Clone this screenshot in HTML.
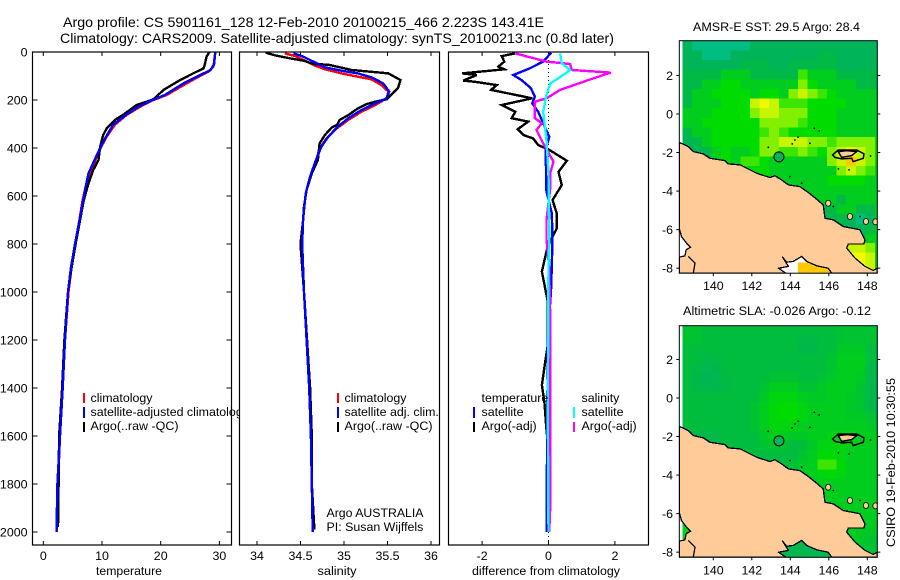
<!DOCTYPE html>
<html>
<head>
<meta charset="utf-8">
<title>Argo profile</title>
<style>
html,body{margin:0;padding:0;background:#fff;}
svg{display:block;}
text{font-family:"Liberation Sans",sans-serif;font-size:12.4px;fill:#000;}
</style>
</head>
<body>
<svg id="fig" xmlns="http://www.w3.org/2000/svg" width="900" height="580" viewBox="0 0 900 580">
<defs>
<clipPath id="clip-sst"><rect x="679.3" y="40.7" width="198" height="232.5"/></clipPath>
<clipPath id="clip-sla"><rect x="679.3" y="325.7" width="198" height="231.6"/></clipPath>
</defs>
<rect width="900" height="580" fill="#fff"/>
<text x="63" y="27" style="font-size:14px" textLength="481" lengthAdjust="spacingAndGlyphs">Argo profile: CS 5901161_128 12-Feb-2010 20100215_466 2.223S 143.41E</text>
<text x="60" y="43" style="font-size:14px" textLength="554" lengthAdjust="spacingAndGlyphs">Climatology: CARS2009. Satellite-adjusted climatology: synTS_20100213.nc (0.8d later)</text>

<g id="p1"></g>
<g id="p1-legend">
<line x1="84" x2="84" y1="393" y2="403" stroke="#f00" stroke-width="2"/>
<line x1="84" x2="84" y1="407" y2="418" stroke="#00f" stroke-width="2"/>
<line x1="84" x2="84" y1="422" y2="432" stroke="#000" stroke-width="2"/>
<text x="90.5" y="402">climatology</text>
<text x="90.5" y="416">satellite-adjusted climatology</text>
<text x="90.5" y="430" textLength="88" lengthAdjust="spacingAndGlyphs">Argo(..raw -QC)</text>
</g>

<g id="p2"></g>
<g id="p2-legend">
<line x1="338" x2="338" y1="393" y2="403" stroke="#f00" stroke-width="2"/>
<line x1="338" x2="338" y1="407" y2="418" stroke="#00f" stroke-width="2"/>
<line x1="338" x2="338" y1="422" y2="432" stroke="#000" stroke-width="2"/>
<text x="344.5" y="402">climatology</text>
<text x="344.5" y="416">satellite adj. clim.</text>
<text x="344.5" y="430" textLength="88" lengthAdjust="spacingAndGlyphs">Argo(..raw -QC)</text>
<text x="326.5" y="517" textLength="97" lengthAdjust="spacingAndGlyphs">Argo AUSTRALIA</text>
<text x="326.5" y="531">PI: Susan Wijffels</text>
</g>

<g id="p3"></g>
<g id="p3-legend">
<text x="481.5" y="402">temperature</text>
<line x1="474" x2="474" y1="407" y2="418" stroke="#00f" stroke-width="2"/>
<text x="481.5" y="416">satellite</text>
<line x1="474" x2="474" y1="422" y2="432" stroke="#000" stroke-width="2"/>
<text x="481.5" y="430">Argo(-adj)</text>
<text x="581.5" y="402">salinity</text>
<line x1="574" x2="574" y1="407" y2="418" stroke="#0ff" stroke-width="2"/>
<text x="581.5" y="416">satellite</text>
<line x1="574" x2="574" y1="422" y2="432" stroke="#f0f" stroke-width="2"/>
<text x="581.5" y="430">Argo(-adj)</text>
</g>

<text x="693" y="31" textLength="167" lengthAdjust="spacingAndGlyphs">AMSR-E SST: 29.5 Argo: 28.4</text>
<g id="m1"></g>
<text x="683" y="315" textLength="188" lengthAdjust="spacingAndGlyphs">Altimetric SLA: -0.026 Argo: -0.12</text>
<g id="m2"></g>
<text transform="translate(895,547) rotate(-90)" textLength="169" lengthAdjust="spacingAndGlyphs">CSIRO 19-Feb-2010 10:30:55</text>
</svg>

<script>
/* ---------- profile data (depth in m) ---------- */
const depthTicks = [0,200,400,600,800,1000,1200,1400,1600,1800,2000];
const tempTicks = [0,10,20,30];
const salTicks = [34,34.5,35,35.5,36];
const salTickLabels = ['34','34.5','35','35.5','36'];
const diffTicks = [-2,0,2];

const tempClimDepth = [0,61,82,100,131,179,200,228,262,303,353,394,436,506,575,617,800,900,1000,1200,1400,1600,1800,2000];
const tempClimValue = [29.3,29.0,28.1,26.7,24.4,21.0,18.75,16.5,14.2,12.2,10.8,9.9,9.1,8.0,7.1,6.7,5.5,4.8,4.3,3.7,3.25,2.85,2.5,2.3];
const tempSatDepth = [0,50,75,100,131,179,200,228,262,303,353,394,436,506,575,617,800,900,1000,1200,1400,1600,1800,2000];
const tempSatValue = [29.3,29.1,28.5,26.4,23.9,20.7,18.6,16.2,14.1,11.9,10.7,9.8,9.0,7.7,7.1,6.8,5.4,4.7,4.2,3.7,3.3,2.85,2.4,2.25];
const tempArgoDepth = [0,20,54,68,92,117,137,158,197,221,262,283,318,346,394,450,492,547,617,800,900,1000,1200,1400,1600,1800,1980];
const tempArgoValue = [28.3,27.8,27.5,27.3,25.3,23.3,21.9,20.5,18.75,15.9,13.6,12.2,10.8,10.2,9.7,9.4,8.5,7.7,6.9,5.5,4.8,4.2,3.6,3.2,2.7,2.6,2.5];

const salClimDepth = [6,17,36,54,72,89,103,114,138,165,193,221,249,283,318,360,401,464,519,589,658,700,800,1000,1400,1600,1800,2000];
const salClimValue = [34.32,34.44,34.55,34.65,34.78,34.97,35.16,35.32,35.43,35.51,35.49,35.36,35.2,35.05,34.92,34.8,34.72,34.67,34.61,34.56,34.54,34.53,34.52,34.54,34.6,34.62,34.63,34.64];
const salSatDepth = [6,19,44,64,78,89,106,131,165,193,214,242,276,314,353,394,457,519,589,658,700,800,1000,1400,1600,1800,2000];
const salSatValue = [34.42,34.53,34.67,34.78,34.97,35.16,35.32,35.45,35.52,35.49,35.36,35.2,35.05,34.92,34.82,34.74,34.67,34.61,34.56,34.54,34.53,34.52,34.54,34.6,34.62,34.63,34.64];
const salArgoDepth = [3,14,28,36,50,53,75,85,89,117,151,197,207,217,235,263,283,304,314,346,381,450,506,575,644,700,800,1000,1400,1600,1800,1990];
const salArgoValue = [34.10,34.21,34.40,34.53,34.65,34.82,35.09,35.39,35.51,35.65,35.62,35.49,35.36,35.26,35.16,35.05,34.95,34.92,34.86,34.78,34.72,34.70,34.63,34.57,34.54,34.53,34.5,34.54,34.61,34.63,34.63,34.66];

const diffTempSatDepth = [3,40,68,96,117,151,186,214,249,297,353,408,575,672,781,978,1200,2000];
const diffTempSatValue = [0.08,-0.16,-0.56,-1.06,-0.81,-0.53,-0.41,-0.49,-0.31,-0.16,0.02,-0.08,-0.07,0.1,0.12,0.08,-0.02,-0.06];
const diffTempArgoDepth = [6,17,40,61,72,89,96,119,124,138,158,193,221,249,276,290,322,346,360,388,406,453,499,554,617,672,735,781,825,915,985,1040,1221,1311,1388,1464,1561,1630,2000];
const diffTempArgoValue = [-1.01,-1.41,-1.33,-1.51,-1.33,-2.60,-2.16,-2.57,-2.21,-1.56,-1.73,-0.49,-1.41,-1.0,-1.11,-0.61,-0.93,-0.76,-0.46,-0.31,0,0.55,0.3,0.4,0.12,0.25,0.25,0.08,-0.05,-0.2,-0.1,-0.02,-0.02,-0.12,-0.2,-0.12,-0.07,-0.02,0.02];
const diffSalArgoDepth = [6,40,50,75,86,117,158,193,207,276,297,325,381,457,505,568,700,780,900,1100,1500,1900,2000];
const diffSalArgoValue = [-1.0,-0.06,0.65,0.7,1.87,1.2,0.35,-0.06,-0.41,-0.41,-0.2,-0.36,-0.16,0.15,0.05,0.05,-0.06,-0.06,0.02,0.05,0.05,0.05,0.02];
const diffSalSatDepth = [6,47,75,100,131,179,249,367,505,781,900,1500,2000];
const diffSalSatValue = [0.35,0.4,0.65,0.4,0.05,-0.06,-0.16,-0.06,0,0.02,0,-0.02,0];

/* ---------- map data ---------- */
const mapLonTicks = [140,142,144,146,148];
const mapLatTicks = [2,0,-2,-4,-6,-8];
const sstLevels = [
[1,0,0,0,0,0,0,1,1,1,1,1,1,1,1,1,1,1,1,1,1],
[1,1,0,0,0,1,1,1,1,1,1,1,1,1,2,2,1,1,1,1,1],
[1,1,1,1,1,1,2,2,2,1,1,2,2,2,2,2,1,1,1,1,2],
[2,2,2,2,3,3,3,2,2,2,2,2,5,3,3,3,2,2,2,2,2],
[2,2,3,3,4,4,3,3,3,3,3,3,6,4,3,3,3,3,2,2,2],
[2,3,3,4,4,4,4,3,4,4,3,6,7,6,5,4,3,3,3,3,3],
[2,3,3,3,4,4,4,7,8,7,5,5,5,4,4,4,4,3,3,3,3],
[3,3,3,4,4,4,4,6,7,7,6,6,6,4,4,4,3,3,3,3,3],
[3,3,4,4,4,4,4,4,6,6,6,6,5,4,4,4,3,3,3,3,3],
[2,3,3,4,4,4,4,4,5,6,5,4,4,4,4,4,3,3,3,3,3],
[1,2,3,4,4,4,4,4,6,6,7,7,7,6,6,5,6,6,6,6,4],
[1,1,2,3,4,3,3,4,6,6,5,5,6,5,4,6,7,8,7,6,4],
[1,1,1,3,4,3,5,5,4,3,3,3,3,3,3,6,7,9,7,6,4],
[1,1,2,2,2,2,3,4,4,3,3,3,3,3,3,3,6,7,6,5,3],
[2,2,2,2,2,2,2,2,3,3,3,3,3,3,3,4,4,4,4,3,3],
[2,2,2,2,2,2,2,2,2,2,3,3,3,3,3,3,3,3,3,3,3],
[2,2,2,2,2,2,2,2,2,2,2,2,3,3,3,3,2,3,3,3,3],
[1,1,1,1,1,1,1,1,1,1,1,1,2,2,2,2,3,3,2,2,3],
[1,1,1,1,1,1,1,1,1,1,1,1,1,1,1,2,2,1,0,1,3],
[1,1,1,1,1,1,1,1,1,1,1,1,1,1,1,1,2,1,1,2,3],
[null,null,2,2,2,2,2,2,2,2,2,2,2,2,2,2,2,2,2,3,3],
[null,null,2,2,2,2,2,2,2,2,2,2,2,2,2,2,2,7,7,6,3],
[null,null,2,2,2,2,2,2,2,2,null,null,null,null,null,null,null,8,8,7,3],
[2,2,2,2,2,2,2,2,2,2,null,null,9,9,9,9,null,8,8,7,3],
[2,2,2,2,2,2,2,2,2,2,null,null,9,9,9,9,null,6,6,6,3]
];
const slaLevels = [
[2.5,2.5,2.2,2.2,2.2,2.2,2.2,2.2,2.2,2.2,2.2,2.2,2.2,2.2,2.2,2.2,2.5,2.5,2.5,2.5,2.5],
[2.5,2.5,2.2,2.2,2.2,2.2,2.2,2.2,2.2,2.2,2.2,2.2,2,2,2.2,2.2,2.5,2.5,2.5,2.5,2.5],
[2.2,2.2,2.2,2.2,2.2,2.2,2.2,2.2,2.2,2.2,2.2,2.2,1.8,1.8,2.2,2.2,2.8,2.8,2.8,2.2,2.2],
[2.2,2.2,2,2,2.2,2.2,2.2,2.2,2.2,2.2,2.2,2.2,2.2,2.2,2.2,2.5,3,3,3,2.2,2],
[2.2,2,1.5,1.8,2.2,2.2,2.2,2.2,2.2,2.2,2.2,2.2,2.2,2.2,2.2,2.5,3,3,3,2,1.6],
[2.2,1.8,1.2,1.5,2,2.2,2.2,2.2,2.2,2.5,2.5,2.5,2.2,2.2,2.5,2.8,3,3,2.8,2,1.5],
[2.2,2,1.5,1.8,2,2.2,2.2,2.2,2.5,3,3,3,2.5,2.5,2.8,3,3,3,2.5,1.8,1.2],
[2.2,2.2,2.2,2.2,2.2,2.2,2.2,2.2,2.8,3.5,3.5,3.5,3,2.8,2.8,3,3,2.8,2.5,1.8,1.2],
[2.2,2.2,2.2,2.2,2.2,2.2,2.2,2.5,3,3.8,4,4,3.5,3,3,3,3,2.8,2.5,2,1.5],
[2.2,2.2,2.2,2.2,2.2,2.2,2.2,2.5,3,3.8,4,4,3.5,3,3,3,3,2.8,2.8,2.5,2.2],
[2.2,2.2,2.2,2.2,2.2,2.2,2.2,2.5,3,3.5,3.5,3.5,3,3,3,3,3,3,3,2.8,2.5],
[2,2,1.8,2,2.2,2.2,2.2,2.2,2.8,3,3,2.8,2.8,3,3,3.5,3.5,3.5,3,3,2.8],
[2,2,2,2,2.2,2.2,2.2,2.2,2.5,2.5,2.5,2.2,2.2,2.8,3.5,3.5,3.5,3.2,3,3,3],
[2.2,2.2,2.2,2.2,2.2,2.2,2.2,2.2,2.2,2.2,2.2,2.2,2.5,3,3.8,3.8,3.5,3,3,3,3],
[2.2,2.2,2.2,2.2,2.2,2.2,2.2,2.2,2.2,2.2,2.2,2.5,2.8,3,5,5,3.8,3,3,3,3],
[2.2,2.2,2.2,2.2,2.2,2.2,2.2,2.2,2.2,2.2,2.2,2.5,2.8,3,3.5,3.8,3.5,3,3,3,3],
[2.2,2.2,2.2,2.2,2.2,2.2,2.2,2.2,2.2,2.2,2.2,2.5,2.8,3,3,3,3,3,3,3,3],
[2.2,2.2,2.2,2.2,2.2,2.2,2.2,2.2,2.2,2.2,2.2,2.2,2.8,3,3,3,3,3,3,3,3],
[2.2,2.2,2.2,2.2,2.2,2.2,2.2,2.2,2.2,2.2,2.2,2.2,2.5,2.8,3,3,3,3,3,3,3],
[2.2,2.2,2.2,2.2,2.2,2.2,2.2,2.2,2.2,2.2,2.2,2.2,2.2,2.5,2.8,3,3,3,3,3,3],
[3.5,4,2.2,2.2,2.2,2.2,2.2,2.2,2.2,2.2,2.2,2.2,2.2,2.2,2.8,3,3,3,3,3,3],
[3.5,4,2.2,2.2,2.2,2.2,2.2,2.2,2.2,2.2,2.2,2.2,2.2,2.2,2.8,3,3,3,2.8,2.8,2.8],
[3.2,3.5,2.2,2.2,2.2,2.2,2.2,2.2,2.2,2.2,2,2,2,2,2,2,2.5,2.8,2.8,2.5,2.5],
[2.2,2.2,2.2,2.2,2.2,2.2,2.2,2.2,2.2,2.2,1.5,1.5,1.5,1.5,1.5,1.5,2,2.5,2.5,2.5,2.5],
[2.2,2.2,2.2,2.2,2.2,2.2,2.2,2.2,2.2,2.2,1.5,1.5,1.5,1.5,1.5,1.5,2,2.5,2.5,2.5,2.5]
];
const levelColors = [[0,190,130],[0,180,90],[0,185,70],[0,205,30],[0,220,0],[60,230,0],[130,240,0],[200,245,0],[240,250,0],[255,200,0]];
const argoLon = [143.41];
const argoLat = [-2.223];
const sstArgoLevel = [1];
const slaArgoLevel = [1];
const landLon = [138.23,138.70,138.96,139.48,139.83,140.61,140.78,141.39,142.25,142.94,143.20,143.55,143.90,144.50,144.94,145.37,145.71,145.80,146.23,146.75,147.62,147.88,147.83,147.01,146.93,147.36,147.88,148.31,148.52,148.52,146.15,145.97,145.37,144.85,144.59,144.16,143.81,143.6,143.9,143.38,143.77,138.23,138.23,138.53,138.58,138.82,138.61,138.35,138.23];
const landLat = [-1.47,-1.69,-1.95,-2.07,-2.30,-2.42,-2.59,-2.64,-3.07,-3.30,-3.20,-3.42,-3.68,-3.77,-4.08,-4.42,-4.72,-5.41,-5.49,-5.84,-6.01,-6.53,-6.74,-6.75,-6.96,-7.48,-7.91,-8.12,-8.00,-8.26,-8.26,-8.00,-7.88,-7.65,-7.39,-7.65,-7.69,-7.43,-7.91,-8.0,-8.26,-8.26,-7.43,-7.36,-7.05,-6.91,-6.70,-6.36,-5.92];
const riverLon = [138.96,139.05,138.7];
const riverLat = [-8.26,-7.74,-7.39];
const islandLon = [146.49,146.93,147.45,147.19,146.67];
const islandLat = [-1.95,-1.90,-1.95,-2.16,-2.25];
const reefLon = [146.20,146.49,147.45,147.83,147.79,147.27,147.19,146.67,146.32];
const reefLat = [-2.12,-1.87,-1.87,-2.07,-2.30,-2.47,-2.30,-2.33,-2.25];
const isletLon = [145.97,147.10,147.93,148.42];
const isletLat = [-4.63,-5.32,-5.58,-5.6];
const speckLon = [142.86,144.1,144.24,144.4,145.02,145.25,145.5,143.98,144.59,146.23,148.17,147.62,146.5,147.05];
const speckLat = [-1.73,-1.55,-1.35,-1.2,-1.52,-0.74,-0.88,-3.25,-3.59,-4.8,-2.18,-5.32,-2.85,-2.9];

/* ---------- helpers ---------- */
const NS = 'http://www.w3.org/2000/svg';
function node(parent, tag, attrs, txt){
  const el = document.createElementNS(NS, tag);
  for (const k in attrs) el.setAttribute(k, attrs[k]);
  if (txt !== undefined) el.textContent = txt;
  parent.appendChild(el);
  return el;
}
const depthY = d => 52 + d * 0.24;
function polyPoints(xs, ys, fx, fy){
  return xs.map((v,i) => fx(v).toFixed(1) + ',' + fy(ys[i]).toFixed(1)).join(' ');
}
function levelColor(lv){
  const a = Math.floor(lv), b = Math.min(a + 1, levelColors.length - 1), t = lv - a;
  const mix = levelColors[a].map((c,i) => Math.round(c + (levelColors[b][i] - c) * t));
  return 'rgb(' + mix.join(',') + ')';
}
function series(parent, xs, ds, fx, color, name){
  const el = node(parent, 'polyline', {points: polyPoints(xs, ds, fx, depthY), fill:'none', stroke:color, 'stroke-width':2.4, 'stroke-linejoin':'miter', 'shape-rendering':'crispEdges'});
  
  
}
function panelFrame(g, x0, x1, ticks, labels, fx, xTitle, xTitleX, yTicks){
  const bg = node(g, 'rect', {x:x0, y:52, width:x1-x0, height:493, fill:'#fff', stroke:'none'});
  
  
  ticks.forEach((t,i) => {
    const x = fx(t);
    const top = node(g, 'line', {x1:x, x2:x, y1:52, y2:56, stroke:'#000'});
    
    
    const bot = node(g, 'line', {x1:x, x2:x, y1:541, y2:545, stroke:'#000'});
    
    
    const lab = node(g, 'text', {x:x, y:560, 'text-anchor':'middle'}, labels[i]);
    
    
  });
  const title = node(g, 'text', {x:xTitleX, y:575, 'text-anchor':'middle', textLength:xTitle.length > 20 ? 148 : (xTitle.length > 8 ? 66 : 39), lengthAdjust:'spacingAndGlyphs'}, xTitle);
  
  
  if (yTicks) depthTicks.forEach(d => {
    const y = depthY(d);
    const l = node(g, 'line', {x1:x0, x2:x0+5, y1:y, y2:y, stroke:'#000'});
    
    
    const r = node(g, 'line', {x1:x1-5, x2:x1, y1:y, y2:y, stroke:'#000'});
    
    
    const lab = node(g, 'text', {x:27.5, y:y+4.5, 'text-anchor':'end'}, String(d));
    
    
  });
}
function panelBorder(g, x0, x1){
  const b = node(g, 'rect', {x:x0, y:52, width:x1-x0, height:493, fill:'none', stroke:'#000', 'stroke-width':1.2});
  
  
}

/* ---------- temperature ---------- */
const tempX = v => 43.3 + v * 5.87;
const p1 = document.getElementById('p1');
panelFrame(p1, 32.5, 231.5, tempTicks, tempTicks.map(String), tempX, 'temperature', 129, true);
series(p1, tempClimValue, tempClimDepth, tempX, '#f00', 'temperature-climatology-line');
series(p1, tempArgoValue, tempArgoDepth, tempX, '#000', 'temperature-argo-line');
series(p1, tempSatValue, tempSatDepth, tempX, '#00f', 'temperature-satellite-adjusted-line');
panelBorder(p1, 32.5, 231.5);

/* ---------- salinity ---------- */
const salX = v => 257 + (v - 34) * 87;
const p2 = document.getElementById('p2');
panelFrame(p2, 239.5, 439.5, salTicks, salTickLabels, salX, 'salinity', 337, false);
series(p2, salClimValue, salClimDepth, salX, '#f00', 'salinity-climatology-line');
series(p2, salArgoValue, salArgoDepth, salX, '#000', 'salinity-argo-line');
series(p2, salSatValue, salSatDepth, salX, '#00f', 'salinity-satellite-adjusted-line');
panelBorder(p2, 239.5, 439.5);

/* ---------- difference ---------- */
const diffX = v => 548.5 + v * 33.2;
const p3 = document.getElementById('p3');
panelFrame(p3, 448.5, 648.5, diffTicks, diffTicks.map(String), diffX, 'difference from climatology', 546, false);
const zeroLine = node(p3, 'line', {x1:diffX(0), x2:diffX(0), y1:52, y2:545, stroke:'#000', 'stroke-dasharray':'1 3'});


series(p3, diffTempArgoValue, diffTempArgoDepth, diffX, '#000', 'difference-temperature-argo-line');
series(p3, diffTempSatValue, diffTempSatDepth, diffX, '#00f', 'difference-temperature-satellite-line');
series(p3, diffSalArgoValue, diffSalArgoDepth, diffX, '#f0f', 'difference-salinity-argo-line');
series(p3, diffSalSatValue, diffSalSatDepth, diffX, '#0ff', 'difference-salinity-satellite-line');
panelBorder(p3, 448.5, 648.5);

/* ---------- maps ---------- */
const lonX = lon => 713.3 + (lon - 140) * 19.25;
function drawMap(g, levels, argoLevel, y0, top, bottom, clipId, prefix){
  const latY = lat => y0 - lat * 19.27;
  const content = node(g, 'g', {'clip-path':'url(#' + clipId + ')'});
  
  
  levels.forEach((row, j) => {
    row.forEach((lv, i) => {
      if (lv === null) return;
      const lon = 138.4 + 0.5 * i;
      const lat = 3.8 - 0.5 * j;
      const cell = node(content, 'rect', {x:lonX(lon), y:latY(lat), width:9.93, height:9.93, fill:levelColor(lv), 'shape-rendering':'crispEdges'});
      
      
    });
  });
  const land = node(content, 'polygon', {points:polyPoints(landLon, landLat, lonX, latY), fill:'#ffcc99', stroke:'#000', 'stroke-width':1.3, 'stroke-linejoin':'round', 'shape-rendering':'crispEdges'});
  
  
  const river = node(content, 'polyline', {points:polyPoints(riverLon, riverLat, lonX, latY), fill:'none', stroke:'#000', 'stroke-width':1.3});
  
  
  const reef = node(content, 'polygon', {points:polyPoints(reefLon, reefLat, lonX, latY), fill:'none', stroke:'#000', 'stroke-width':1.5});
  
  
  const island = node(content, 'polygon', {points:polyPoints(islandLon, islandLat, lonX, latY), fill:'#ffcc99', stroke:'#000', 'stroke-width':1.5});
  
  
  isletLon.forEach((lon, i) => {
    const e = node(content, 'ellipse', {cx:lonX(lon), cy:latY(isletLat[i]), rx:2.6, ry:3, fill:'#ffcc99', stroke:'#000', 'stroke-width':0.8});
    
    
  });
  speckLon.forEach((lon, i) => {
    const s = node(content, 'circle', {cx:lonX(lon), cy:latY(speckLat[i]), r:0.9, fill:'#000'});
    
    
  });
  const marker = node(content, 'circle', {cx:lonX(argoLon[0]), cy:latY(argoLat[0]), r:5, fill:levelColor(argoLevel[0]), stroke:'#000', 'stroke-width':1});
  
  
  const border = node(g, 'rect', {x:679.3, y:top, width:198, height:bottom-top, fill:'none', stroke:'#000', 'stroke-width':1});
  
  
  mapLonTicks.forEach(t => {
    const x = lonX(t);
    const tick = node(g, 'line', {x1:x, x2:x, y1:bottom, y2:bottom+3, stroke:'#000'});
    
    
    const lab = node(g, 'text', {x:x, y:bottom+17, 'text-anchor':'middle'}, String(t));
    
    
  });
  mapLatTicks.forEach(t => {
    const y = latY(t);
    const tl = node(g, 'line', {x1:676.3, x2:679.3, y1:y, y2:y, stroke:'#000'});
    
    
    const tr = node(g, 'line', {x1:877.3, x2:880.3, y1:y, y2:y, stroke:'#000'});
    
    
    const lab = node(g, 'text', {x:673, y:y+4.5, 'text-anchor':'end'}, String(t));
    
    
  });
}
drawMap(document.getElementById('m1'), sstLevels, sstArgoLevel, 114, 40.7, 273.2, 'clip-sst', 'sst');
drawMap(document.getElementById('m2'), slaLevels, slaArgoLevel, 398, 325.7, 557.3, 'clip-sla', 'sla');
</script>
</body>
</html>
